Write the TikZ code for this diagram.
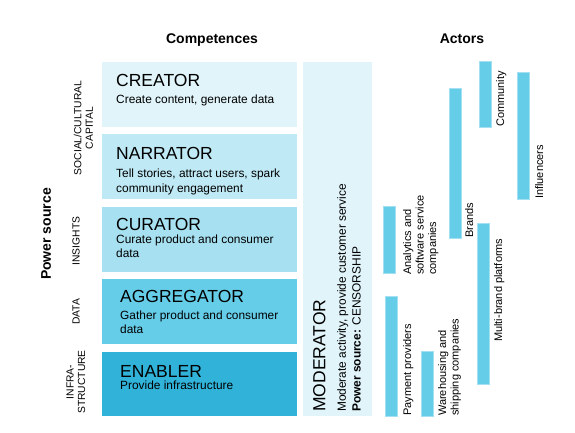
\documentclass[tikz,border=0pt]{standalone}
\usepackage{fontspec}
\setmainfont{Liberation Sans}
\definecolor{cA}{HTML}{E0F4FA}
\definecolor{cB}{HTML}{BFE9F5}
\definecolor{cC}{HTML}{A6E0F1}
\definecolor{cD}{HTML}{66CDE9}
\definecolor{cE}{HTML}{31B2D9}
\definecolor{barc}{HTML}{66CDE9}
\tikzset{
 box/.style={draw=none, anchor=north west, minimum width=195pt, minimum height=65pt, inner sep=0pt},
 ttl/.style={anchor=base west, font=\fontsize{17.5}{20}\selectfont, inner sep=0pt},
 dsc/.style={anchor=base west, font=\fontsize{11.9}{14.5}\selectfont, inner sep=0pt},
 bar/.style={fill=barc, draw=barc!60!white, line width=0.4pt, anchor=north west, minimum width=12pt, inner sep=0pt},
 alab/.style={rotate=90, anchor=north west, align=left, inner sep=0pt, font=\fontsize{11}{12.5}\selectfont},
 slab/.style={rotate=90, align=center, inner sep=0pt, font=\fontsize{10.3}{11.5}\selectfont},
 head/.style={font=\bfseries\fontsize{14}{16}\selectfont, inner sep=0pt},
 mtxt/.style={rotate=90, anchor=north west, inner sep=0pt}
}
\begin{document}
\begin{tikzpicture}[x=1pt,y=-1pt]
\useasboundingbox[fill=white] (0,0) rectangle (575,433);

% headings
\node[head, anchor=base] (comp) at (212,44) {Competences};
\node[head, anchor=base] (act) at (462,44) {Actors};
\node[head, rotate=90, anchor=north] (ps) at (41,234) {Power source};

% side labels
\node[slab] (soc) at (83.5,128) {SOCIAL/CULTURAL\\CAPITAL};
\node[slab] (ins) at (76,241) {INSIGHTS};
\node[slab] (dat) at (76,312) {DATA};
\node[slab] (inf) at (76,382) {INFRA-\\STRUCTURE};

% competence boxes
\node[box, fill=cA] (creator) at (102,62) {};
\node[box, fill=cB] (narrator) at (102,134) {};
\node[box, fill=cC] (curator) at (102,207) {};
\node[box, fill=cD] (aggregator) at (102,279) {};
\node[box, fill=cE, minimum height=64pt] (enabler) at (102,352) {};

\node[ttl] (t1) at (116,87) {CREATOR};
\node[dsc] (d1) at (116,104) {Create content, generate data};
\node[ttl] (t2) at (116,159) {NARRATOR};
\node[dsc] (d2a) at (116,177) {Tell stories, attract users, spark};
\node[dsc] (d2b) at (116,192) {community engagement};
\node[ttl] (t3) at (116,230) {CURATOR};
\node[dsc] (d3a) at (116,243) {Curate product and consumer};
\node[dsc] (d3b) at (116,257) {data};
\node[ttl] (t4) at (120,302) {AGGREGATOR};
\node[dsc] (d4a) at (120,319) {Gather product and consumer};
\node[dsc] (d4b) at (120,333) {data};
\node[ttl] (t5) at (120,377) {ENABLER};
\node[dsc] (d5) at (120,389) {Provide infrastructure};

% moderator
\node[box, fill=cA, minimum width=69pt, minimum height=354pt] (moderator) at (303,62) {};
\node[mtxt, font=\fontsize{17.5}{20}\selectfont] (mt) at (313,412) {MODERATOR};
\node[mtxt, font=\fontsize{11.9}{14.5}\selectfont] (m1) at (337,412) {Moderate activity, provide customer service};
\node[mtxt, font=\fontsize{11.9}{14.5}\selectfont] (m2) at (352,412) {\textbf{Power source:} CENSORSHIP};

% actor bars
\node[bar, minimum height=67pt] (ana) at (383,206) {};
\node[bar, minimum height=120pt] (pay) at (385,296) {};
\node[bar, minimum height=65pt] (ware) at (421,351) {};
\node[bar, minimum height=150pt] (brand) at (449,88) {};
\node[bar, minimum height=161pt] (multi) at (477,223) {};
\node[bar, minimum height=66pt] (comm) at (479,61) {};
\node[bar, minimum height=127pt] (infl) at (517,72) {};

% actor labels
\node[alab] (lana) at (403,275) {Analytics and\\software service\\companies};
\node[alab] (lpay) at (403,416) {Payment providers};
\node[alab] (lware) at (438,416) {Warehousing and\\shipping companies};
\node[alab] (lbrand) at (465,238) {Brands};
\node[alab] (lmulti) at (494,342) {Multi-brand platforms};
\node[alab] (lcomm) at (496,127) {Community};
\node[alab] (linfl) at (535,199) {Influencers};
\end{tikzpicture}
\end{document}
